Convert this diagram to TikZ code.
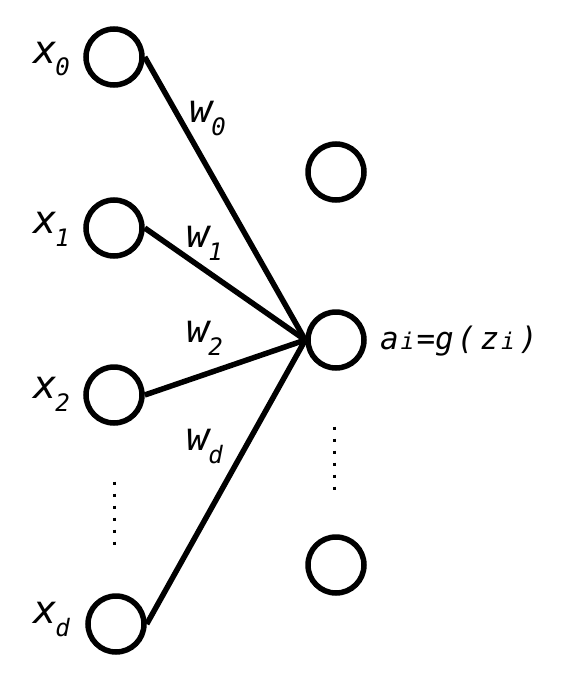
\documentclass[tikz,border=0pt]{standalone}
\usepackage{fontspec}
\newfontfamily\lab{DejaVu Sans Mono Oblique}
\newcommand{\bigf}{\lab\fontsize{39}{44}\selectfont}
\newcommand{\subf}{\lab\fontsize{24}{28}\selectfont}
\newcommand{\frmf}{\lab\fontsize{31}{36}\selectfont}
\newcommand{\frmsub}{\lab\fontsize{23}{26}\selectfont}
\newcommand{\lbl}[2]{{\bigf #1}\hspace{-1pt}\raisebox{-13pt}{\subf #2}}
\begin{document}
\begin{tikzpicture}[x=1pt,y=-1pt,
  neuron/.style={draw,circle,line width=5.5pt,minimum size=56pt,inner sep=0pt},
  conn/.style={line width=5.5pt},
  lbltext/.style={anchor=base west,inner sep=0pt,outer sep=0pt},
  vdots/.style={line width=3pt,dash pattern=on 3pt off 9pt}]
\useasboundingbox (0,0) rectangle (567,680);
\node[neuron] (x0) at (114,57) {};
\node[neuron] (x1) at (114,228) {};
\node[neuron] (x2) at (114,395) {};
\node[neuron] (xd) at (116,624) {};
\node[neuron] (h1) at (336,172) {};
\node[neuron] (m) at (336,340) {};
\node[neuron] (h3) at (336,565) {};
\draw[conn] (x0.east) -- (m.west);
\draw[conn] (x1.east) -- (m.west);
\draw[conn] (x2.east) -- (m.west);
\draw[conn] (xd.east) -- (m.west);
\coordinate (ld1) at (114,481.5);
\coordinate (ld2) at (114,546);
\coordinate (rd1) at (334,426.5);
\coordinate (rd2) at (334,491);
\draw[vdots] (ld1) -- (ld2);
\draw[vdots] (rd1) -- (rd2);
\node[lbltext] (lx0) at (33,63) {\lbl{x}{0}};
\node[lbltext] (lx1) at (33,233) {\lbl{x}{1}};
\node[lbltext] (lx2) at (33,398) {\lbl{x}{2}};
\node[lbltext] (lxd) at (33,623) {\lbl{x}{d}};
\node[lbltext] (lw0) at (189,122) {\lbl{w}{0}};
\node[lbltext] (lw1) at (186,247) {\lbl{w}{1}};
\node[lbltext] (lw2) at (186,342) {\lbl{w}{2}};
\node[lbltext] (lwd) at (186,450) {\lbl{w}{d}};
\node[lbltext] (f) at (380,349) {\frmf a\hspace{2pt}{\frmsub i}\hspace{2pt}=g\hspace{3pt}(\hspace{5pt}z\hspace{2pt}{\frmsub i}\hspace{4pt})};
\end{tikzpicture}
\end{document}
